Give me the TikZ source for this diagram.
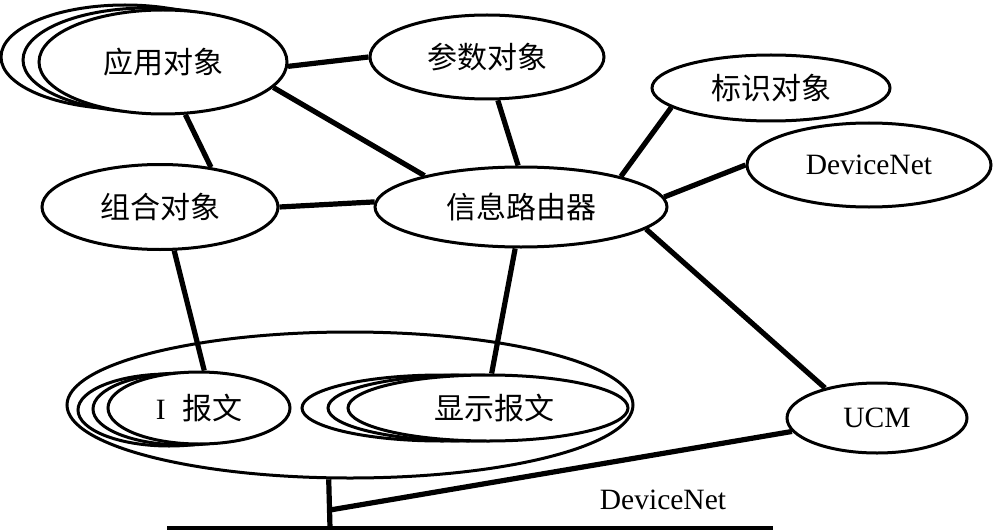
\documentclass[tikz,border=0pt]{standalone}
\usepackage{fontspec}
\setmainfont{Liberation Serif}
\newfontfamily\cjk{Noto Sans CJK SC}
\usetikzlibrary{shapes.geometric}
\begin{document}
\begin{tikzpicture}[x=1pt,y=-1pt,
  ell/.style={ellipse, draw, line width=3pt, fill=white, inner sep=0pt,
    font=\fontsize{29.5}{31}\selectfont},
  zh/.style={font=\cjk\fontsize{30}{32}\selectfont},
  conn/.style={line width=5.2pt},
  bus/.style={line width=3.4pt}]
\useasboundingbox (0,0) rectangle (995,532);

% big ellipse around the message objects
\node[ell, fill=none, minimum width=566, minimum height=146] (big) at (350,405) {};

% application object stack
\node[ell, minimum width=248, minimum height=104] (app3) at (125,57) {};
\node[ell, minimum width=248, minimum height=104] (app2) at (147,60) {};
\node[ell, zh, minimum width=248, minimum height=104] (app) at (163,62) {应用对象};

\node[ell, zh, minimum width=234, minimum height=84] (param) at (487,57) {参数对象};
\node[ell, zh, minimum width=238, minimum height=66] (ident) at (771,88) {标识对象};
\node[ell, minimum width=244, minimum height=84] (dnet) at (869,165) {DeviceNet};
\node[ell, zh, minimum width=236, minimum height=85] (comb) at (160,207) {组合对象};
\node[ell, zh, minimum width=292, minimum height=80] (router) at (521,207) {信息路由器};

% I message stack
\node[ell, minimum width=182, minimum height=72] (io3) at (169,410) {};
\node[ell, minimum width=182, minimum height=72] (io2) at (184,409) {};
\node[ell, minimum width=182, minimum height=72] (io) at (199,408) {I\hspace{0.55em}{\cjk\fontsize{30}{32}\selectfont 报文}};

% explicit message stack
\node[ell, minimum width=280, minimum height=66] (ex3) at (442,408) {};
\node[ell, minimum width=280, minimum height=66] (ex2) at (468,408) {};
\node[ell, zh, minimum width=280, minimum height=66] (ex) at (488,408) {\hspace{12pt}显示报文};

\node[ell, minimum width=180, minimum height=70] (ucm) at (877,418) {UCM};

\node[font=\fontsize{29.5}{31}\selectfont, inner sep=0pt] (dnlabel) at (663,500) {DeviceNet};

% bus
\coordinate (busL) at (167,528);
\coordinate (busR) at (773,528);
\coordinate (busJ) at (330,528);
\coordinate (vJ) at (330,510);

% connectors
\draw[conn] (app.-2.8) -- (param.180);
\draw[conn] (app.-13.3) -- (router.162);
\draw[conn] (app.-67) -- (comb.38);
\draw[conn] (comb.0) -- (router.178.5);
\draw[conn] (param.-76) -- (router.94);
\draw[conn] (ident.191.5) -- (router.17.2);
\draw[conn] (dnet.180) -- (router.4.8);
\draw[conn] (router.-10.7) -- (ucm.150);
\draw[conn] (comb.-72) -- (io.82);
\draw[conn] (router.-98) -- (ex.84);
\draw[conn] (ucm.189.5) -- (vJ);
\draw[conn] (big.254.7) -- (busJ);
\draw[bus] (busL) -- (busR);
\end{tikzpicture}
\end{document}
